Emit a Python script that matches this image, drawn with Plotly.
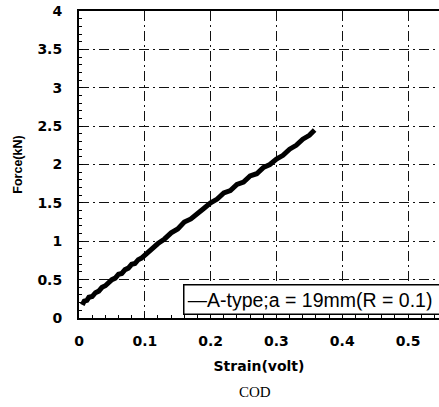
import plotly.graph_objects as go

strain = [0.005, 0.008, 0.012, 0.015, 0.02, 0.025, 0.03, 0.035, 0.04, 0.045, 0.05, 0.055,
          0.06, 0.065, 0.07, 0.075, 0.08, 0.085, 0.09, 0.095, 0.10, 0.105, 0.11, 0.115,
          0.12, 0.13, 0.14, 0.15, 0.16, 0.17, 0.18, 0.19, 0.20, 0.21, 0.22,
          0.23, 0.24, 0.25, 0.26, 0.27, 0.28, 0.29, 0.30, 0.31, 0.32, 0.33, 0.34,
          0.35, 0.358]
force = [0.17, 0.22, 0.23, 0.27, 0.28, 0.33, 0.35, 0.40, 0.42, 0.47, 0.50, 0.52,
         0.57, 0.58, 0.63, 0.65, 0.70, 0.71, 0.76, 0.78, 0.82, 0.86, 0.88, 0.94,
         0.97, 1.03, 1.11, 1.16, 1.25, 1.29, 1.37, 1.43, 1.50, 1.55, 1.63,
         1.66, 1.74, 1.77, 1.85, 1.88, 1.96, 2.00, 2.07, 2.12, 2.20, 2.25, 2.33,
         2.38, 2.45]
series_name = "A-type;a = 19mm(R = 0.1)"
x_ticks = [0, 0.1, 0.2, 0.3, 0.4, 0.5]
y_ticks = [0, 0.5, 1, 1.5, 2, 2.5, 3, 3.5, 4]

fig = go.Figure()
fig.add_trace(go.Scatter(x=strain, y=force, mode="lines",
                         line=dict(color="black", width=5),
                         name=series_name, showlegend=False))

tickfont = dict(family="DejaVu Sans", size=14, color="black", weight="bold")
grid = dict(showgrid=True, gridcolor="#111", gridwidth=1, griddash="10px,4px,2px,4px")

fig.update_layout(
    width=439, height=407,
    margin=dict(l=79, r=0, t=11, b=89),
    paper_bgcolor="white", plot_bgcolor="white",
    xaxis=dict(range=[0, 0.547], tickvals=x_ticks, ticktext=[str(v) for v in x_ticks],
               showline=True, linecolor="black", linewidth=2, mirror=True,
               ticks="inside", ticklen=4, tickcolor="black",
               minor=dict(dtick=0.02, ticks="inside", ticklen=3, tickcolor="black", showgrid=False),
               tickfont=tickfont, ticklabelstandoff=9,
               title=dict(text="Strain(volt)", font=dict(family="DejaVu Sans", size=14, color="black", weight="bold"), standoff=13),
               zeroline=False, **grid),
    yaxis=dict(range=[0, 4], tickvals=y_ticks, ticktext=[f"{v:g}" for v in y_ticks],
               showline=True, linecolor="black", linewidth=2, mirror=False,
               ticks="inside", ticklen=4, tickcolor="black",
               minor=dict(dtick=0.1, ticks="inside", ticklen=3, tickcolor="black", showgrid=False),
               tickfont=tickfont, ticklabelstandoff=12,
               title=dict(text="Force(kN)", font=dict(family="Liberation Sans", size=12.5, color="black", weight="bold"), standoff=12),
               zeroline=False, **grid),
    annotations=[
        dict(text="—" + series_name, xref="paper", yref="paper", x=0.289, y=0.01,
             xanchor="left", yanchor="bottom", showarrow=False, align="left",
             width=280, height=22, borderpad=3,
             bordercolor="black", borderwidth=1.5, bgcolor="white",
             font=dict(family="Liberation Sans", size=19.5, color="black")),
        dict(text="COD", xref="paper", yref="paper", x=0.49, y=-0.24,
             xanchor="center", yanchor="middle", showarrow=False,
             font=dict(family="Liberation Serif", size=15, color="black")),
    ],
)

fig.write_html("out.html")
